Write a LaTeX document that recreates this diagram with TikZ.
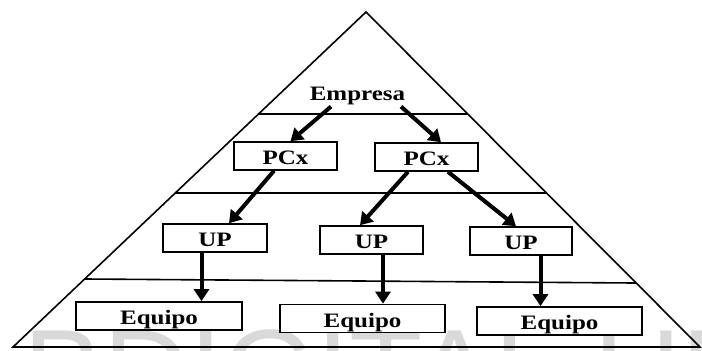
\documentclass[tikz,border=0pt]{standalone}
\usepackage{fontspec}
\usetikzlibrary{arrows.meta,calc}
\newfontfamily\boxfont{Liberation Serif}[FakeStretch=1.22]
\newfontfamily\markfont{Liberation Sans}
\begin{document}
\begin{tikzpicture}[x=1pt,y=-1pt,
  rule/.style={line width=1.6pt},
  labelfont/.style={font=\boxfont\bfseries\fontsize{20.5}{24}\selectfont},
  unit/.style={draw, fill=white, line width=1.6pt, minimum height=28pt, inner sep=0pt,
    text height=17.6pt, text depth=0pt, labelfont},
  link/.style={line width=4pt, -{Triangle[length=12pt,width=15pt]}},
]
\useasboundingbox (0,0) rectangle (702,351);

% faint background lettering along the bottom edge
\begin{scope}
  \clip (0,0) rectangle (702,351);
  \node[anchor=base west, inner sep=0pt, text=black!15,
        font=\markfont\fontsize{120}{120}\selectfont] (mark) at (23,413) {BDIGITAL UN};
\end{scope}

% pyramid outline
\coordinate (apex) at (366,12);
\coordinate (bl) at (13,347);
\coordinate (br) at (700,347);
\draw[rule] (apex) -- (bl) -- (br) -- cycle;

% level separators
\draw[rule] ($(apex)!0.3045!(bl)$) -- ($(apex)!0.3045!(br)$);
\draw[rule] ($(apex)!0.5403!(bl)$) -- ($(apex)!0.5403!(br)$);
\draw[rule] ($(apex)!0.797!(bl)$) -- ($(apex)!0.809!(br)$);

% nodes
\node[labelfont, anchor=base, inner sep=0pt] (emp) at (357.5,100) {Empresa};

\node[unit, minimum width=103pt] (pcx1) at (285.5,156) {PCx};
\node[unit, minimum width=103pt] (pcx2) at (426.5,157) {PCx};

\node[unit, minimum width=104pt] (up1) at (215,238) {UP};
\node[unit, minimum width=103pt] (up2) at (371.5,240) {UP};
\node[unit, minimum width=102pt] (up3) at (521,241) {UP};

\node[unit, minimum width=166pt] (eq1) at (159,316) {Equipo};
\node[unit, minimum width=165pt] (eq2) at (362.5,318.5) {Equipo};
\node[unit, minimum width=165pt] (eq3) at (559.5,321) {Equipo};

% connectors
\draw[link] ($(emp.south)+(-26.5,2)$) -- ($(pcx1.north)+(5,0)$);
\draw[link] ($(emp.south)+(43.5,2)$) -- ($(pcx2.north)+(14.5,0)$);

\draw[link] ($(pcx1.south)+(-11.5,0)$) -- ($(up1.north)+(14,0)$);
\draw[link] ($(pcx2.south)+(-18.5,0)$) -- ($(up2.north)+(-11.5,0)$);
\draw[link] ($(pcx2.south)+(21.5,0)$) -- ($(up3.north)+(-5,0)$);

\draw[link] ($(up1.south)+(-13.5,0)$) coordinate (d1) -- (d1 |- eq1.north);
\draw[link] ($(up2.south)+(11.5,0)$) coordinate (d2) -- (d2 |- eq2.north);
\draw[link] ($(up3.south)+(19.5,0)$) coordinate (d3) -- (d3 |- eq3.north);
\end{tikzpicture}
\end{document}
